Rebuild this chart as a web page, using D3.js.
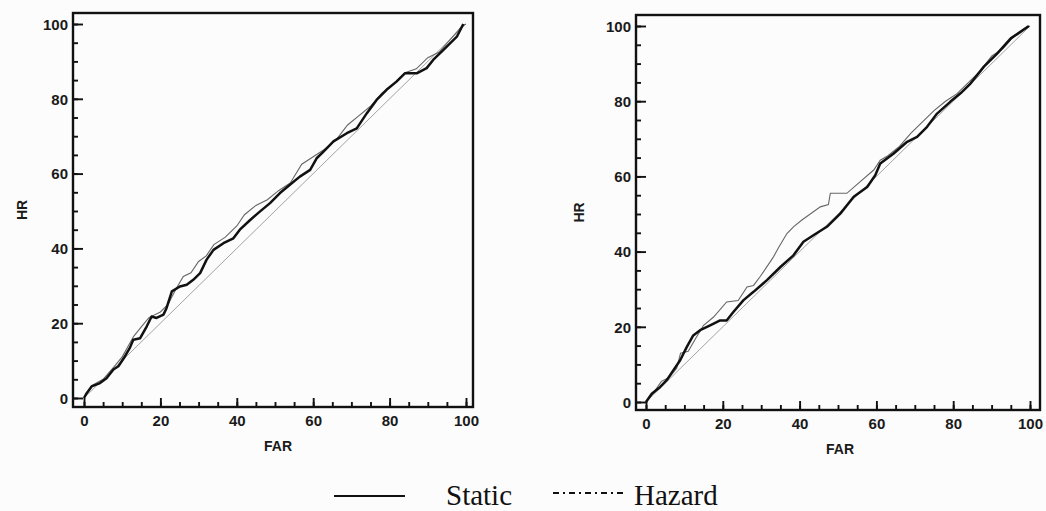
<!DOCTYPE html>
<html>
<head>
<meta charset="utf-8">
<script src="https://cdn.jsdelivr.net/npm/d3@7"></script>
<style>
  body { margin: 0; background: #fcfcfc; }
  svg { display: block; }
  .tick text { font-family: "Liberation Sans", Arial, sans-serif; font-size: 15px; font-weight: bold; fill: #1a1a1a; }
  .axis-title { font-family: "Liberation Sans", Arial, sans-serif; font-size: 14px; font-weight: bold; fill: #1a1a1a; }
  .legend text { font-family: "Liberation Serif", "Times New Roman", serif; font-size: 29px; fill: #111; }
</style>
</head>
<body>
<div id="chart"></div>
<script>
var width = 1046, height = 511;

// ticks
var majorTicks = [0, 20, 40, 60, 80, 100];
var minorTicks = d3.range(0, 101, 5);

// left panel
var farLeftStatic = [0, 0.7, 2, 4.2, 5.9, 7.7, 9, 10.7, 12, 12.9, 14.7, 16.4, 17.7, 19, 20.8, 21.6, 23, 25.1, 26.9, 28.6, 30.4, 32.1, 33.9, 36.5, 39.1, 40.8, 43.5, 46.1, 48.7, 51.3, 53.9, 56.5, 59.2, 60.9, 62.7, 65.3, 68.8, 71.4, 74, 76.6, 79.2, 81.8, 84, 87.1, 89.7, 91.4, 94.1, 97.6, 99.3];
var hrLeftStatic  = [0, 1.3, 3.1, 4, 5.3, 7.6, 8.5, 11.1, 13.4, 15.6, 16, 19.1, 21.8, 21.4, 22.3, 24, 28.5, 29.8, 30.3, 31.6, 33.4, 37, 39.6, 41.4, 42.7, 45, 47.6, 49.9, 52.1, 54.8, 57, 59.2, 61, 64.1, 65.9, 68.6, 70.8, 72.1, 76.1, 79.7, 82.4, 84.6, 86.8, 86.8, 88.2, 90.4, 93.1, 96.6, 100];
var farLeftHazard = [0, 2, 5, 8, 10, 13, 15, 17, 20, 22, 24, 26, 28, 30, 32, 34, 37, 40, 42, 45, 48, 51, 54, 57, 60, 63, 66, 69, 72, 75, 78, 81, 84, 87, 90, 93, 96, 99, 100];
var hrLeftHazard  = [0, 3.3, 5, 8.5, 11, 16.5, 19, 21.5, 23, 25, 29, 32.5, 33.5, 36.5, 38, 41, 43, 46, 49, 51.5, 53, 55.5, 57.5, 62.5, 64.5, 66.5, 69, 73, 75.5, 78, 81.5, 84, 87, 88, 91, 92.5, 96, 99.5, 100];

// right panel
var farRightStatic = [0, 1.5, 3.7, 5.4, 7.1, 8.9, 10.6, 12.3, 14.1, 16.7, 19.3, 21, 22.8, 25.4, 28, 31.5, 35, 38.4, 41, 43.7, 47.1, 50.6, 54.1, 57.6, 59.7, 61, 64.5, 68, 70.6, 73.2, 75.8, 79.3, 81.9, 84.5, 88, 91.5, 95, 97.6, 99.7];
var hrRightStatic  = [0, 2.2, 4, 5.8, 8.4, 11.1, 14.6, 17.7, 19.1, 20.4, 21.7, 21.7, 24, 27.1, 29.3, 32.4, 35.9, 39, 42.6, 44.4, 46.6, 50.1, 54.6, 57.2, 60.3, 63.4, 66.1, 69.2, 70.5, 73.2, 76.7, 79.9, 82.1, 84.7, 89.2, 92.7, 96.7, 98.5, 100];
var farRightHazard = [0, 2, 4, 6, 8, 9, 11, 13, 15, 17.6, 21, 24, 26.3, 28, 29.7, 33.2, 34.5, 36.7, 38.4, 40.6, 45.4, 47.5, 48, 52.3, 55.8, 59.3, 61, 63, 66, 69, 72, 75, 78, 81, 84, 87, 90, 93, 96, 99, 100];
var hrRightHazard  = [0, 2.5, 5.5, 6.5, 9, 13, 13.5, 17, 20.4, 22.6, 26.6, 27, 30.6, 31, 33.3, 38.6, 41, 44.8, 46.6, 48.4, 51.9, 52.5, 55.5, 55.5, 58.6, 61.7, 64.3, 65.5, 68, 71.5, 74.5, 77.5, 80, 82, 85, 88, 92, 94, 97.5, 99.5, 100];

var panels = [
  { frame: [73, 13, 473, 407], x: [84, 466], y: [398, 24], hrX: 22, farX: 278,
    stat: d3.zip(farLeftStatic, hrLeftStatic), haz: d3.zip(farLeftHazard, hrLeftHazard) },
  { frame: [636, 15, 1040, 410], x: [646, 1030], y: [402, 26], hrX: 579, farX: 840,
    stat: d3.zip(farRightStatic, hrRightStatic), haz: d3.zip(farRightHazard, hrRightHazard) }
];

var svg = d3.select("#chart").append("svg")
  .attr("width", width)
  .attr("height", height);

panels.forEach(function(p) {
  var x = d3.scaleLinear().domain([0, 100]).range(p.x);
  var y = d3.scaleLinear().domain([0, 100]).range(p.y);
  var g = svg.append("g");
  var f = p.frame;

  var line = d3.line()
    .x(function(d) { return x(d[0]); })
    .y(function(d) { return y(d[1]); });

  // chance diagonal
  g.append("path")
    .datum([[0, 0], [100, 100]])
    .attr("d", line)
    .attr("fill", "none")
    .attr("stroke", "#999")
    .attr("stroke-width", 0.9);

  g.append("path")
    .datum(p.haz)
    .attr("d", line)
    .attr("fill", "none")
    .attr("stroke", "#666")
    .attr("stroke-width", 1.1);

  g.append("path")
    .datum(p.stat)
    .attr("d", line)
    .attr("fill", "none")
    .attr("stroke", "#111")
    .attr("stroke-width", 2.5)
    .attr("stroke-linejoin", "round");

  // axes with inward ticks
  var xMinor = d3.axisBottom(x).tickValues(minorTicks).tickSize(-5).tickFormat("");
  var xMajor = d3.axisBottom(x).tickValues(majorTicks).tickSizeInner(-9).tickSizeOuter(0).tickPadding(8);
  var yMinor = d3.axisLeft(y).tickValues(minorTicks).tickSize(-5).tickFormat("");
  var yMajor = d3.axisLeft(y).tickValues(majorTicks).tickSizeInner(-10).tickSizeOuter(0).tickPadding(5);

  [xMinor, xMajor].forEach(function(ax) {
    g.append("g").attr("class", "xaxis").attr("transform", "translate(0," + f[3] + ")").call(ax);
  });
  [yMinor, yMajor].forEach(function(ax) {
    g.append("g").attr("class", "yaxis").attr("transform", "translate(" + f[0] + ",0)").call(ax);
  });
  g.selectAll(".domain").remove();
  g.selectAll(".tick line").attr("stroke", "#111").attr("stroke-width", 1.9);
  g.selectAll(".xaxis .tick text").attr("dy", "0.71em");
  g.selectAll(".yaxis .tick text").attr("dy", "0.35em");

  g.append("rect")
    .attr("x", f[0]).attr("y", f[1])
    .attr("width", f[2] - f[0]).attr("height", f[3] - f[1])
    .attr("fill", "none")
    .attr("stroke", "#111")
    .attr("stroke-width", 2.4);

  g.append("text")
    .attr("class", "axis-title")
    .attr("transform", "translate(" + p.hrX + "," + ((f[1] + f[3]) / 2) + ") rotate(-90)")
    .attr("text-anchor", "middle")
    .attr("dy", "0.35em")
    .text("HR");

  g.append("text")
    .attr("class", "axis-title")
    .attr("x", p.farX)
    .attr("y", f[3] + 44)
    .attr("text-anchor", "middle")
    .text("FAR");
});

// legend
var legend = svg.append("g").attr("class", "legend");
legend.append("line")
  .attr("x1", 334).attr("x2", 405).attr("y1", 496).attr("y2", 496)
  .attr("stroke", "#111").attr("stroke-width", 2.2);
legend.append("text").attr("x", 446).attr("y", 505).text("Static");
legend.append("line")
  .attr("x1", 553).attr("x2", 625).attr("y1", 493).attr("y2", 493)
  .attr("stroke", "#111").attr("stroke-width", 2)
  .attr("stroke-dasharray", "6,4,2,4");
legend.append("text").attr("x", 634).attr("y", 505).text("Hazard");
</script>
</body>
</html>
